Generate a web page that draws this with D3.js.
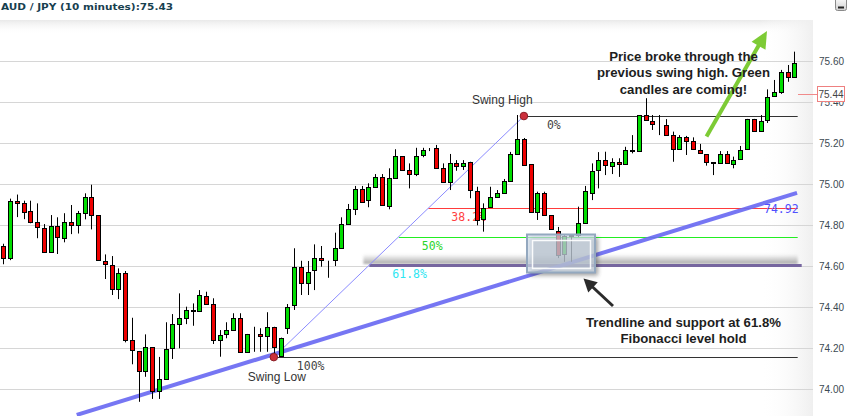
<!DOCTYPE html>
<html><head><meta charset="utf-8">
<script src="https://cdn.jsdelivr.net/npm/d3@7"></script>
<style>html,body{margin:0;padding:0;background:#fff;overflow:hidden}</style>
</head><body><svg id="c" width="850" height="416"></svg>
<script>
// ---------------- DATA ----------------
const candleOpen = [74.70,74.64,74.92,74.907,74.87,74.815,74.785,74.668,74.797,74.737,
74.815,74.80,74.859,74.937,74.85,74.626,74.605,74.488,74.566,74.239,
74.187,74.089,74.205,73.992,74.05,74.20,74.317,74.346,74.38,74.382,
74.457,74.415,74.24,74.268,74.289,74.346,74.183,74.265,74.27,74.26,
74.305,74.162,74.297,74.411,74.595,74.517,74.582,74.639,74.627,74.631,
74.688,74.806,74.878,74.976,74.923,74.988,75.037,74.894,75.029,75.138,
75.07,75.05,75.143,75.172,75.176,75.078,75.013,75.106,75.089,75.109,
74.967,74.829,74.888,74.94,74.959,75.017,75.148,75.219,75.098,74.866,
74.956,74.85,74.774,74.658,74.752,74.752,74.813,74.956,75.068,75.118,
75.089,75.107,75.099,75.164,75.162,75.337,75.309,75.289,75.288,75.24,
75.171,75.229,75.213,75.167,75.146,75.107,75.102,75.146,75.099,75.122,
75.171,75.319,75.26,75.314,75.431,75.449,75.546,75.522];
const candleHigh = [74.71,74.93,74.95,74.92,74.92,74.907,74.806,74.85,74.839,74.859,
74.899,74.87,74.956,74.998,74.85,74.658,74.65,74.59,74.577,74.349,
74.187,74.268,74.205,74.158,74.327,74.367,74.468,74.403,74.419,74.484,
74.476,74.444,74.289,74.327,74.371,74.371,74.27,74.305,74.298,74.376,
74.305,74.252,74.416,74.688,74.627,74.626,74.707,74.699,74.627,74.764,
74.839,74.904,74.992,74.992,75.005,75.05,75.05,75.078,75.171,75.138,
75.102,75.178,75.178,75.177,75.192,75.102,75.148,75.118,75.118,75.11,
74.988,74.907,74.988,74.972,75.026,75.158,75.338,75.226,75.098,74.964,
74.964,74.85,74.792,74.752,74.752,74.891,74.992,75.102,75.157,75.159,
75.127,75.127,75.183,75.24,75.337,75.42,75.338,75.338,75.318,75.257,
75.24,75.236,75.229,75.197,75.146,75.107,75.162,75.162,75.135,75.187,
75.319,75.319,75.338,75.463,75.509,75.558,75.582,75.647];
const candleLow = [74.61,74.63,74.84,74.83,74.81,74.737,74.668,74.668,74.66,74.717,
74.757,74.76,74.829,74.78,74.631,74.538,74.46,74.44,74.229,74.122,
73.939,74.061,73.953,73.953,74.05,74.148,74.20,74.318,74.31,74.382,
74.415,74.221,74.159,74.249,74.289,74.183,74.183,74.183,74.183,74.183,
74.159,74.162,74.27,74.387,74.46,74.46,74.484,74.598,74.544,74.601,
74.688,74.806,74.85,74.915,74.888,74.988,74.899,74.878,75.029,75.07,
74.98,75.04,75.132,75.162,75.078,75.013,74.972,75.066,75.07,74.932,
74.80,74.769,74.888,74.94,74.959,75.017,75.148,75.094,74.866,74.826,
74.85,74.782,74.64,74.622,74.622,74.743,74.813,74.923,74.98,75.045,
75.05,75.036,75.099,75.151,75.162,75.314,75.265,75.24,75.24,75.11,
75.171,75.143,75.171,75.151,75.091,75.045,75.102,75.102,75.078,75.122,
75.171,75.26,75.26,75.299,75.431,75.441,75.50,75.522];
const candleClose = [74.64,74.92,74.907,74.866,74.818,74.79,74.668,74.797,74.741,74.815,
74.80,74.859,74.937,74.85,74.631,74.61,74.488,74.566,74.239,74.19,
74.089,74.205,73.992,74.049,74.195,74.317,74.346,74.385,74.385,74.458,
74.415,74.24,74.265,74.289,74.346,74.183,74.27,74.267,74.26,74.305,
74.207,74.252,74.403,74.598,74.52,74.574,74.639,74.631,74.626,74.688,
74.806,74.878,74.976,74.915,74.985,75.037,74.899,75.029,75.138,75.07,
75.05,75.138,75.167,75.172,75.078,75.013,75.106,75.089,75.106,74.972,
74.826,74.886,74.937,74.956,75.017,75.148,75.219,75.094,74.866,74.956,
74.85,74.782,74.655,74.747,74.75,74.813,74.967,75.066,75.118,75.094,
75.107,75.099,75.167,75.167,75.337,75.314,75.293,75.288,75.24,75.171,
75.229,75.213,75.171,75.151,75.107,75.105,75.146,75.102,75.118,75.167,
75.319,75.26,75.309,75.427,75.45,75.549,75.522,75.59];

const tickValues = [74.00,74.20,74.40,74.60,74.80,75.00,75.20,75.40,75.60];
const lastPrice = 75.44;
const swingLow = {idx: 40, price: 74.157, label: "Swing Low"};
const swingHigh = {idx: 77, price: 75.333, label: "Swing High"};
const fibRatios = [0, 0.382, 0.5, 0.618, 1];
const fibLabels = ["0%", "38.2%", "50%", "61.8%", "100%"];
const trendIdx = [10.85, 117.4];
const trendPrice = [73.875, 74.958];
const trendLabel = "74.92";
const titleText = "AUD / JPY (10 minutes):75.43";
const noteTop = ["Price broke through the", "previous swing high. Green", "candles are coming!"];
const noteBottom = ["Trendline and support at 61.8%", "Fibonacci level hold"];

// ---------------- CHART ----------------
const svg = d3.select("#c");
const plotRight = 813, plotTop = 20, H = 416;
const n = candleOpen.length;
const x = d3.scaleBand().domain(d3.range(n)).range([0, 797.7]).padding(0);
const xc = i => x.range()[0] + x.step() * i + x.step() / 2;
const y = d3.scaleLinear().domain([74, 75.6]).range([389.3, 61.3]);

const defs = svg.append("defs");
const gTop = defs.append("linearGradient").attr("id","gTop").attr("x1",0).attr("y1",0).attr("x2",0).attr("y2",1);
gTop.append("stop").attr("offset","0%").attr("stop-color","#e9e9e9");
gTop.append("stop").attr("offset","100%").attr("stop-color","#ffffff").attr("stop-opacity",0);
const gRight = defs.append("linearGradient").attr("id","gRight").attr("x1",0).attr("y1",0).attr("x2",1).attr("y2",0);
gRight.append("stop").attr("offset","0%").attr("stop-color","#ffffff").attr("stop-opacity",0);
gRight.append("stop").attr("offset","100%").attr("stop-color","#efefef");
const gBand = defs.append("linearGradient").attr("id","gBand").attr("x1",0).attr("y1",0).attr("x2",0).attr("y2",1);
gBand.append("stop").attr("offset","0%").attr("stop-color","#999").attr("stop-opacity",0);
gBand.append("stop").attr("offset","100%").attr("stop-color","#8a8a8a").attr("stop-opacity",0.75);
const gBtn = defs.append("linearGradient").attr("id","gBtn").attr("x1",0).attr("y1",0).attr("x2",0).attr("y2",1);
gBtn.append("stop").attr("offset","0%").attr("stop-color","#ffffff");
gBtn.append("stop").attr("offset","100%").attr("stop-color","#cfcfcf");
defs.append("filter").attr("id","blur1").attr("x","-20%").attr("y","-100%").attr("width","140%").attr("height","300%")
  .append("feGaussianBlur").attr("stdDeviation",1.2);
defs.append("filter").attr("id","blur2").attr("x","-20%").attr("y","-50%").attr("width","140%").attr("height","200%")
  .append("feGaussianBlur").attr("stdDeviation",2);

// background panel
svg.append("rect").attr("x",0).attr("y",0).attr("width",850).attr("height",H).attr("fill","#fff");
svg.append("rect").attr("x",0).attr("y",plotTop).attr("width",plotRight).attr("height",14).attr("fill","url(#gTop)");
svg.append("rect").attr("x",760).attr("y",plotTop).attr("width",plotRight-760).attr("height",H-plotTop).attr("fill","url(#gRight)");

// title
svg.append("text").attr("x",1).attr("y",10).text(titleText)
  .attr("font-family","'DejaVu Sans', Verdana, sans-serif").attr("font-weight","bold").attr("font-size","9px")
  .attr("fill","#17404f").attr("textLength",172).attr("lengthAdjust","spacingAndGlyphs");

// minimize button
svg.append("rect").attr("x",835.5).attr("y",-3).attr("width",11).attr("height",13.5).attr("rx",2)
  .attr("fill","url(#gBtn)").attr("stroke","#8a8a8a");
svg.append("line").attr("x1",838).attr("x2",844).attr("y1",7.5).attr("y2",7.5).attr("stroke","#222").attr("stroke-width",2);

// gridlines
const grid = svg.append("g").attr("transform","translate(0,0)")
  .call(d3.axisRight(y).tickValues(tickValues).tickSize(plotRight).tickFormat(""));
grid.select(".domain").remove();
grid.selectAll("line").attr("stroke","#d6d6d6").attr("shape-rendering","crispEdges");

// right axis
const ax = svg.append("g").attr("transform","translate(819,0)")
  .call(d3.axisRight(y).tickValues(tickValues).tickSize(0).tickPadding(0).tickFormat(d3.format(".2f")));
ax.select(".domain").remove();
ax.selectAll("text").attr("font-family","'Liberation Sans', Arial, sans-serif").attr("font-size","10px").attr("fill","#3c4a52");

// fib
const xLow = xc(swingLow.idx), xHigh = xc(swingHigh.idx);
const fibEnd = x.range()[1];
const fib = fibRatios.map((r,k) => ({
  r, label: fibLabels[k],
  price: swingHigh.price - r * (swingHigh.price - swingLow.price),
  xs: xHigh - r * (xHigh - xLow)
}));
const fibStyle = {
  "0%": {c:"#333", w:1, t:"#444"},
  "38.2%": {c:"#ff3b3b", w:1, t:"#ff4040"},
  "50%": {c:"#22ee22", w:1, t:"#2bd52b"},
  "61.8%": {c:"#76669f", w:3, t:"#2ee6f2"},
  "100%": {c:"#333", w:1, t:"#444"}
};
// soft shadow above 61.8% line
const f618 = fib[3];
svg.append("rect").attr("x", f618.xs - 6).attr("y", y(f618.price) - 11)
  .attr("width", fibEnd - f618.xs + 6).attr("height", 10)
  .attr("fill","url(#gBand)").attr("filter","url(#blur1)");

svg.append("g").selectAll("line").data(fib).join("line")
  .attr("x1", d => d.xs).attr("x2", d => d.label === "61.8%" ? fibEnd + 4 : fibEnd)
  .attr("y1", d => Math.round(y(d.price)) + 0.5).attr("y2", d => Math.round(y(d.price)) + 0.5)
  .attr("stroke", d => fibStyle[d.label].c).attr("stroke-width", d => fibStyle[d.label].w);
svg.append("g").selectAll("text").data(fib).join("text")
  .attr("x", d => d.xs + 23).attr("y", d => y(d.price) + 13)
  .text(d => d.label)
  .attr("font-family","'DejaVu Sans Mono', monospace").attr("font-size","11.5px")
  .attr("fill", d => fibStyle[d.label].t);

// thin swing diagonal
svg.append("line").attr("x1",xLow).attr("y1",y(swingLow.price)).attr("x2",xHigh).attr("y2",y(swingHigh.price))
  .attr("stroke","#8b8bff").attr("stroke-width",1);

// thick trendline
svg.append("line").attr("x1",xc(trendIdx[0])).attr("y1",y(trendPrice[0]))
  .attr("x2",xc(trendIdx[1])).attr("y2",y(trendPrice[1]))
  .attr("stroke","#6a6af2").attr("stroke-width",4).attr("stroke-opacity",0.92);

// trend label (blue)
svg.append("text").attr("x",764).attr("y",y(fib[1].price) + 4.5).text(trendLabel)
  .attr("font-family","'DejaVu Sans Mono', monospace").attr("font-size","11.5px").attr("fill","#5050ff");

// candles
const data = d3.range(n).map(i => ({i, o:candleOpen[i], h:candleHigh[i], l:candleLow[i], c:candleClose[i]}));
const cg = svg.append("g");
cg.selectAll("line").data(data).join("line")
  .attr("x1", d => Math.round(xc(d.i)) + 0.5).attr("x2", d => Math.round(xc(d.i)) + 0.5)
  .attr("y1", d => y(d.h)).attr("y2", d => y(d.l))
  .attr("stroke","#000").attr("stroke-width",1);
cg.selectAll("rect").data(data).join("rect")
  .attr("x", d => Math.round(xc(d.i)) - 2 + 0.5)
  .attr("width", 4)
  .attr("y", d => Math.round(y(Math.max(d.o,d.c))) + 0.5)
  .attr("height", d => Math.max(0, Math.round(y(Math.min(d.o,d.c))) - Math.round(y(Math.max(d.o,d.c)))))
  .attr("fill", d => d.c >= d.o ? "#00dd00" : "#ee0000")
  .attr("stroke","#000").attr("stroke-width",1);

// swing dots & labels
[swingHigh, swingLow].forEach(s => {
  svg.append("circle").attr("cx", xc(s.idx)).attr("cy", y(s.price)).attr("r",3.8)
    .attr("fill","#cc2f3c").attr("stroke","#8a1d25").attr("stroke-width",1);
});
svg.append("text").attr("x", xc(swingHigh.idx) - 52).attr("y", y(swingHigh.price) - 12.5).text(swingHigh.label)
  .attr("font-family","'Liberation Sans', Arial, sans-serif").attr("font-size","12px").attr("fill","#333");
svg.append("text").attr("x", xc(swingLow.idx) - 26).attr("y", y(swingLow.price) + 24).text(swingLow.label)
  .attr("font-family","'Liberation Sans', Arial, sans-serif").attr("font-size","12px").attr("fill","#333");

// highlight box
const bx = 527, by = 234.5, bw = 68, bh = 38;
svg.append("rect").attr("x",bx+3).attr("y",by+3).attr("width",bw).attr("height",bh)
  .attr("fill","#333").attr("opacity",0.45).attr("filter","url(#blur2)");
svg.append("rect").attr("x",bx).attr("y",by).attr("width",bw).attr("height",bh)
  .attr("fill","#d3e0ef").attr("fill-opacity",0.68).attr("stroke","#93a8bf").attr("stroke-width",2);
svg.append("rect").attr("x",bx+5.5).attr("y",by+6).attr("width",bw-10).attr("height",bh-10)
  .attr("fill","none").attr("stroke","#ffffff").attr("stroke-opacity",0.9).attr("stroke-width",1.5);

// arrows
function arrow(tail, tip, headLen, headW, color, width){
  const dx = tip[0]-tail[0], dy = tip[1]-tail[1], L = Math.hypot(dx,dy);
  const ux = dx/L, uy = dy/L, nx = -uy, ny = ux;
  const bxp = tip[0]-headLen*ux, byp = tip[1]-headLen*uy;
  svg.append("line").attr("x1",tail[0]).attr("y1",tail[1]).attr("x2",bxp+ux*2).attr("y2",byp+uy*2)
    .attr("stroke",color).attr("stroke-width",width);
  svg.append("path").attr("d", `M${tip[0]},${tip[1]}L${bxp+headW*nx},${byp+headW*ny}L${bxp-headW*nx},${byp-headW*ny}Z`)
    .attr("fill",color);
}
arrow([613,306],[583.5,278.5],13,7,"#2b2b2b",3);
arrow([706.5,136.5],[767,31],17,8,"#7dcb35",4);

// notes
const noteFont = "'Liberation Sans', Arial, sans-serif";
svg.append("g").selectAll("text").data(noteTop).join("text")
  .attr("x",683.5).attr("y",(d,k) => 60.5 + k*16.6).attr("text-anchor","middle").text(d => d)
  .attr("font-family",noteFont).attr("font-weight","bold").attr("font-size","13.2px").attr("fill","#1e1e1e");
svg.append("g").selectAll("text").data(noteBottom).join("text")
  .attr("x",683.5).attr("y",(d,k) => 327 + k*16).attr("text-anchor","middle").text(d => d)
  .attr("font-family",noteFont).attr("font-weight","bold").attr("font-size","13.2px").attr("fill","#1e1e1e");

// last price marker
const ly = y(lastPrice);
svg.append("line").attr("x1",798).attr("x2",817).attr("y1",Math.round(ly)+0.5).attr("y2",Math.round(ly)+0.5)
  .attr("stroke","#f08a8a").attr("stroke-width",1);
svg.append("rect").attr("x",817.5).attr("y",Math.round(ly)-7.5).attr("width",27).attr("height",15)
  .attr("fill","#fff").attr("stroke","#ee8080").attr("stroke-width",1);
svg.append("text").attr("x",831).attr("y",ly+3.6).attr("text-anchor","middle").text(d3.format(".2f")(lastPrice))
  .attr("font-family","'Liberation Sans', Arial, sans-serif").attr("font-size","10px").attr("fill","#444");
</script></body></html>
